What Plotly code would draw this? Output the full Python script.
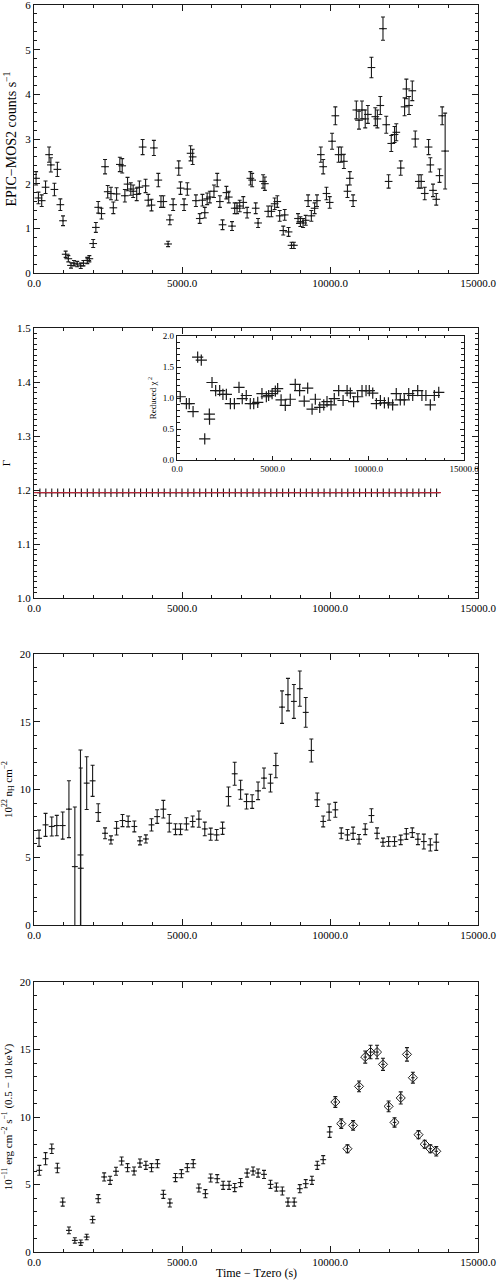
"""Four-panel X-ray time series: MOS2 rate, photon index, nH and flux."""

import plotly.graph_objects as go

# --- panel 1: EPIC-MOS2 light curve ---
mos2_time = [70, 150, 260, 390, 510, 570, 690, 790, 890, 980, 1070, 1160, 1250, 1350,
             1460, 1580, 1670, 1800, 1870, 2000, 2090, 2170, 2280, 2400, 2490, 2600, 2680,
             2790, 2900, 2980, 3070, 3160, 3270, 3350, 3470, 3560, 3670, 3770, 3860, 3970,
             4050, 4200, 4290, 4370, 4530, 4590, 4700, 4890, 4950, 5070, 5180, 5290, 5360,
             5470, 5600, 5690, 5770, 5850, 5940, 6080, 6190, 6280, 6370, 6500, 6580, 6690,
             6780, 6860, 6950, 7070, 7200, 7310, 7370, 7490, 7570, 7740, 7800, 7910, 8020,
             8130, 8220, 8300, 8420, 8470, 8600, 8700, 8780, 8920, 9000, 9090, 9180, 9260,
             9370, 9480, 9560, 9690, 9770, 9880, 9990, 10070, 10180, 10290, 10380, 10470,
             10590, 10670, 10780, 10890, 10980, 11080, 11190, 11280, 11400, 11530, 11600,
             11700, 11790, 11900, 11980, 12070, 12180, 12240, 12390, 12520, 12580, 12670,
             12780, 12880, 13000, 13080, 13200, 13330, 13390, 13480, 13590, 13700, 13790,
             13890]
mos2_rate = [2.12, 1.68, 1.62, 1.92, 2.65, 2.42, 1.87, 2.32, 1.53, 1.17, 0.42, 0.32, 0.17,
             0.22, 0.20, 0.16, 0.22, 0.28, 0.32, 0.66, 1.02, 1.47, 1.33, 2.38, 1.82, 1.78,
             1.46, 1.77, 2.43, 2.40, 1.73, 1.99, 1.88, 1.83, 1.76, 1.92, 2.82, 1.95, 1.63,
             1.52, 2.80, 2.08, 1.60, 1.60, 0.65, 1.19, 1.53, 2.35, 1.90, 1.53, 1.88, 2.68,
             2.60, 1.62, 1.22, 1.63, 1.35, 1.66, 1.70, 1.83, 2.08, 1.60, 1.08, 1.80, 1.70,
             1.05, 1.45, 1.45, 1.50, 1.58, 1.35, 2.12, 2.08, 1.45, 1.12, 2.05, 2.00, 1.38,
             1.38, 1.55, 1.60, 1.28, 0.95, 1.30, 0.92, 0.62, 0.62, 1.22, 1.15, 1.12, 1.18,
             1.62, 1.28, 1.45, 1.62, 2.65, 2.38, 1.78, 1.58, 2.95, 3.52, 2.65, 2.65, 2.50,
             1.83, 2.12, 1.62, 3.65, 3.42, 3.65, 3.45, 3.55, 4.60, 3.50, 3.45, 3.75, 5.47,
             3.32, 2.05, 2.90, 3.10, 3.15, 2.35, 3.72, 4.12, 3.75, 4.08, 3.00, 2.05, 2.05,
             1.78, 2.82, 2.42, 1.85, 1.65, 2.18, 3.52, 2.73]
mos2_err = [0.15, 0.13, 0.13, 0.14, 0.17, 0.16, 0.14, 0.16, 0.13, 0.11, 0.07, 0.07, 0.06,
            0.06, 0.06, 0.06, 0.06, 0.07, 0.07, 0.09, 0.11, 0.13, 0.12, 0.16, 0.14, 0.14,
            0.13, 0.14, 0.16, 0.16, 0.14, 0.15, 0.14, 0.14, 0.14, 0.14, 0.17, 0.15, 0.13,
            0.13, 0.17, 0.15, 0.13, 0.13, 0.06, 0.11, 0.13, 0.16, 0.14, 0.13, 0.14, 0.17,
            0.17, 0.13, 0.11, 0.13, 0.12, 0.13, 0.13, 0.14, 0.15, 0.13, 0.11, 0.14, 0.13,
            0.10, 0.12, 0.12, 0.13, 0.13, 0.12, 0.15, 0.15, 0.12, 0.10, 0.15, 0.15, 0.12,
            0.12, 0.13, 0.13, 0.12, 0.10, 0.12, 0.10, 0.07, 0.07, 0.11, 0.11, 0.10, 0.11,
            0.13, 0.12, 0.12, 0.13, 0.17, 0.16, 0.14, 0.13, 0.18, 0.20, 0.17, 0.17, 0.16,
            0.14, 0.15, 0.13, 0.20, 0.20, 0.20, 0.20, 0.20, 0.23, 0.20, 0.20, 0.20, 0.26,
            0.19, 0.15, 0.18, 0.18, 0.19, 0.16, 0.20, 0.22, 0.20, 0.22, 0.18, 0.15, 0.15,
            0.14, 0.17, 0.16, 0.14, 0.13, 0.15, 0.20, 0.85]

# --- panel 2: photon index (frozen) and inset reduced chi^2 ---
gamma_time = [200, 400, 600, 800, 1000, 1200, 1400, 1600, 1800, 2000, 2200, 2400, 2600,
              2800, 3000, 3200, 3400, 3600, 3800, 4000, 4200, 4400, 4600, 4800, 5000, 5200,
              5400, 5600, 5800, 6000, 6200, 6400, 6600, 6800, 7000, 7200, 7400, 7600, 7800,
              8000, 8200, 8400, 8600, 8800, 9000, 9200, 9400, 9600, 9800, 10000, 10200,
              10400, 10600, 10800, 11000, 11200, 11400, 11600, 11800, 12000, 12200, 12400,
              12600, 12800, 13000, 13200, 13400, 13600]
gamma_val = [1.195, 1.195, 1.195, 1.195, 1.195, 1.195, 1.195, 1.195, 1.195, 1.195, 1.195,
             1.195, 1.195, 1.195, 1.195, 1.195, 1.195, 1.195, 1.195, 1.195, 1.195, 1.195,
             1.195, 1.195, 1.195, 1.195, 1.195, 1.195, 1.195, 1.195, 1.195, 1.195, 1.195,
             1.195, 1.195, 1.195, 1.195, 1.195, 1.195, 1.195, 1.195, 1.195, 1.195, 1.195,
             1.195, 1.195, 1.195, 1.195, 1.195, 1.195, 1.195, 1.195, 1.195, 1.195, 1.195,
             1.195, 1.195, 1.195, 1.195, 1.195, 1.195, 1.195, 1.195, 1.195, 1.195, 1.195,
             1.195, 1.195]
gamma_err = 0.008
gamma_fit_time = [0, 13750]
gamma_fit_val = [1.195, 1.195]

chi2_time = [170, 490, 640, 840, 1080, 1270, 1450, 1690, 1700, 1830, 2020, 2230, 2400,
             2580, 2790, 3000, 3240, 3410, 3620, 3830, 4010, 4220, 4440, 4670, 4790, 4970,
             5140, 5260, 5440, 5660, 5920, 6180, 6410, 6650, 6830, 7060, 7230, 7460, 7670,
             7840, 8050, 8220, 8450, 8680, 8890, 9060, 9230, 9440, 9670, 9880, 10050, 10230,
             10420, 10630, 10840, 11050, 11270, 11460, 11670, 11880, 12110, 12320, 12580,
             12800, 13010, 13240, 13450, 13680]
chi2_val = [1.02, 0.91, 0.91, 0.78, 1.66, 1.61, 0.34, 0.74, 0.66, 1.25, 1.12, 1.12, 1.06,
            1.06, 0.91, 0.91, 1.17, 0.99, 1.04, 0.91, 0.91, 0.93, 1.07, 1.02, 1.04, 1.07,
            1.11, 1.15, 0.97, 0.88, 0.98, 1.22, 1.12, 0.95, 1.16, 0.82, 0.98, 0.85, 0.89,
            0.94, 0.89, 0.99, 1.12, 0.96, 1.12, 1.08, 0.94, 1.02, 1.12, 1.12, 1.12, 1.08,
            0.91, 0.96, 0.92, 0.92, 0.89, 1.07, 0.97, 0.97, 1.07, 1.04, 1.12, 1.04, 1.04,
            0.89, 1.04, 1.09]

# --- panel 3: absorbing column ---
nh_time = [170, 390, 600, 770, 970, 1180, 1380, 1570, 1580, 1780, 1980, 2170, 2400, 2600,
           2790, 2990, 3180, 3390, 3580, 3780, 3970, 4160, 4370, 4570, 4780, 4950, 5150,
           5360, 5570, 5770, 5970, 6170, 6370, 6570, 6780, 6980, 7180, 7370, 7570, 7770,
           7990, 8170, 8380, 8580, 8780, 8980, 9180, 9370, 9570, 9770, 9970, 10180, 10380,
           10590, 10780, 10980, 11190, 11400, 11590, 11790, 11980, 12180, 12390, 12580,
           12780, 12970, 13170, 13390, 13590]
nh_val = [6.40, 7.39, 7.27, 7.34, 7.34, 8.55, 4.31, 5.17, 4.19, 10.47, 10.64, 8.30, 6.77,
          6.28, 7.14, 7.71, 7.64, 7.27, 6.21, 6.35, 7.39, 8.00, 8.55, 7.51, 7.07, 7.07,
          7.46, 7.64, 7.81, 7.09, 6.70, 6.65, 7.14, 9.48, 11.16, 9.98, 9.11, 9.11, 9.90,
          10.84, 10.47, 11.77, 16.08, 17.00, 16.50, 17.44, 15.69, 12.88, 9.24, 7.64, 8.33,
          8.50, 6.77, 6.65, 6.77, 6.33, 7.07, 8.08, 6.77, 6.11, 6.16, 6.16, 6.28, 6.72,
          6.82, 6.33, 6.16, 5.91, 6.11]
nh_err = [0.6, 0.85, 0.7, 0.75, 1.0, 2.1, 4.4, 7.75, 7.4, 1.95, 1.15, 0.65, 0.4, 0.3, 0.5,
          0.45, 0.4, 0.4, 0.3, 0.3, 0.45, 0.5, 0.65, 0.65, 0.4, 0.4, 0.45, 0.4, 0.6, 0.5,
          0.45, 0.4, 0.45, 0.7, 0.85, 0.7, 0.55, 0.5, 0.65, 0.75, 0.65, 0.9, 1.2, 1.2, 1.25,
          1.3, 1.1, 0.85, 0.5, 0.4, 0.6, 0.55, 0.4, 0.4, 0.45, 0.35, 0.4, 0.5, 0.4, 0.3,
          0.35, 0.35, 0.35, 0.4, 0.35, 0.4, 0.55, 0.45, 0.6]

# --- panel 4: unabsorbed flux (crosses, then diamonds) ---
flux_time = [180, 390, 600, 790, 970, 1180, 1380, 1580, 1780, 1980, 2170, 2370, 2570, 2770,
             2960, 3160, 3380, 3580, 3780, 3970, 4170, 4370, 4590, 4780, 4980, 5180, 5380,
             5570, 5790, 5970, 6190, 6390, 6590, 6780, 6980, 7200, 7400, 7570, 7770, 7990,
             8190, 8390, 8580, 8790, 8980, 9180, 9390, 9570, 9770, 9990]
flux_val = [6.05, 6.91, 7.65, 6.22, 3.70, 1.60, 0.86, 0.69, 1.11, 2.40, 3.95, 5.56, 5.31,
            5.98, 6.74, 6.25, 6.00, 6.59, 6.42, 6.25, 6.54, 4.27, 3.63, 5.51, 5.80, 6.25,
            6.54, 4.74, 4.32, 5.48, 5.43, 4.94, 4.94, 4.77, 5.14, 5.85, 6.00, 5.85, 5.75,
            5.01, 4.81, 4.52, 3.70, 3.70, 4.69, 5.06, 5.31, 6.42, 6.84, 8.89]
flux_err = [0.37, 0.45, 0.35, 0.35, 0.3, 0.25, 0.2, 0.2, 0.2, 0.25, 0.3, 0.3, 0.3, 0.3, 0.3,
            0.3, 0.3, 0.3, 0.3, 0.3, 0.3, 0.3, 0.3, 0.3, 0.3, 0.3, 0.3, 0.3, 0.3, 0.3, 0.3,
            0.3, 0.3, 0.3, 0.3, 0.3, 0.3, 0.3, 0.3, 0.3, 0.3, 0.3, 0.3, 0.3, 0.3, 0.3, 0.3,
            0.3, 0.3, 0.4]
flux_hi_time = [10180, 10380, 10590, 10780, 10980, 11190, 11370, 11590, 11790, 11980,
                12180, 12390, 12600, 12800, 12990, 13200, 13390, 13590]
flux_hi_val = [11.11, 9.51, 7.65, 9.38, 12.27, 14.44, 14.81, 14.81, 13.90, 10.79, 9.60,
               11.41, 14.64, 12.91, 8.69, 7.98, 7.65, 7.46]
flux_hi_err = [0.4, 0.35, 0.3, 0.35, 0.4, 0.45, 0.5, 0.5, 0.45, 0.4, 0.35, 0.45, 0.5, 0.4,
               0.3, 0.3, 0.3, 0.35]

SERIF = "Liberation Serif"
INK = "#1a1a1a"


def err_trace(x, y, ey, xa, ya, half_bin, cap=2, symbol="circle", msize=1):
    if isinstance(ey, float):
        ey_spec = dict(type="constant", value=ey)
    else:
        ey_spec = dict(type="data", array=ey)
    return go.Scatter(
        x=x, y=y, xaxis=xa, yaxis=ya, mode="markers", showlegend=False,
        marker=dict(size=msize, color=INK, symbol=symbol, line=dict(color=INK, width=1)),
        error_y=dict(ey_spec, visible=True, color=INK, thickness=1.1, width=cap),
        error_x=dict(type="constant", value=half_bin, visible=True, color=INK, thickness=1.1, width=0),
    )


fig = go.Figure()
fig.add_trace(err_trace(mos2_time, mos2_rate, mos2_err, "x", "y", 130))
fig.add_trace(err_trace(gamma_time, gamma_val, gamma_err, "x2", "y2", 100, cap=0))
fig.add_trace(go.Scatter(x=gamma_fit_time, y=gamma_fit_val, xaxis="x2", yaxis="y2", mode="lines",
                         line=dict(color="#b8283a", width=1.3), showlegend=False))
fig.add_trace(go.Scatter(x=chi2_time, y=chi2_val, xaxis="x3", yaxis="y3", mode="markers",
                         marker=dict(symbol="cross-thin", size=8, line=dict(color=INK, width=1.2)),
                         showlegend=False))
fig.add_trace(err_trace(nh_time, nh_val, nh_err, "x4", "y4", 100))
fig.add_trace(err_trace(flux_time, flux_val, flux_err, "x5", "y5", 100))
fig.add_trace(err_trace(flux_hi_time, flux_hi_val, flux_hi_err, "x5", "y5", 60,
                        symbol="diamond-open", msize=7))

tickfont = dict(family=SERIF, size=11, color="black")
axis_common = dict(
    showline=True, linecolor=INK, linewidth=1.2, mirror="allticks", ticks="inside",
    ticklen=6, tickcolor=INK, showgrid=False, zeroline=False, tickfont=tickfont,
    automargin=False, ticklabeloverflow="allow",
)


def xaxis(anchor, **kw):
    d = dict(axis_common, range=[0, 15000], dtick=5000, tickformat=".1f",
             minor=dict(dtick=1000, ticklen=3, ticks="inside", tickcolor=INK),
             anchor=anchor)
    d.update(kw)
    return d


def yaxis(anchor, domain, rng, dtick, minor, title, fmt="", tsize=11, standoff=4, **kw):
    d = dict(axis_common, anchor=anchor, domain=domain, range=rng, dtick=dtick, tickformat=fmt,
             minor=dict(dtick=minor, ticklen=3, ticks="inside", tickcolor=INK),
             title=dict(text=title, font=dict(family=SERIF, size=tsize, color="black"),
                        standoff=standoff))
    d.update(kw)
    return d


H = 1280.0
small = dict(family=SERIF, size=9, color="black")
fig.update_layout(
    width=498, height=1280,
    margin=dict(l=34, r=20, t=0, b=0),
    paper_bgcolor="white", plot_bgcolor="white",
    xaxis=xaxis("y"),
    yaxis=yaxis("x", [1 - 273 / H, 1 - 5 / H], [0, 6], 1, 0.2,
                "EPIC−MOS2 counts s<sup>−1</sup>", tsize=14, standoff=5),
    xaxis2=xaxis("y2"),
    yaxis2=yaxis("x2", [1 - 598 / H, 1 - 328 / H], [1.0, 1.5], 0.1, 0.01, "Γ", ".1f"),
    xaxis3=xaxis("y3", domain=[(177 - 34) / 444, (464 - 34) / 444], tickfont=small, ticklen=4,
                 minor=dict(dtick=1000, ticklen=2, ticks="inside", tickcolor=INK)),
    yaxis3=yaxis("x3", [1 - 460 / H, 1 - 336 / H], [0, 2], 0.5, 0.1, "Reduced χ<sup> 2</sup>",
                 ".1f", tsize=9, tickfont=small, ticklen=4),
    xaxis4=xaxis("y4"),
    yaxis4=yaxis("x4", [1 - 925 / H, 1 - 654 / H], [0, 20], 5, 1,
                 "10<sup>22</sup> n<sub>H</sub> cm<sup>−2</sup>", standoff=7),
    xaxis5=xaxis("y5"),
    yaxis5=yaxis("x5", [1 - 1252 / H, 1 - 982 / H], [0, 20], 5, 1,
                 "10<sup>−11</sup> erg cm<sup>−2</sup> s<sup>−1</sup> (0.5 − 10 keV)", standoff=6),
    annotations=[dict(text="Time − Tzero (s)", xref="paper", yref="paper", x=(256 - 34) / 444,
                      y=1 - 1273 / H, xanchor="center", yanchor="middle", showarrow=False,
                      font=dict(family=SERIF, size=12, color="black"))],
)

# the page body has a default 8px margin; drop it so the figure sits at the window corner
fig.write_html("out.html", config={"displayModeBar": False},
               post_script="document.body.style.margin = '0';")
